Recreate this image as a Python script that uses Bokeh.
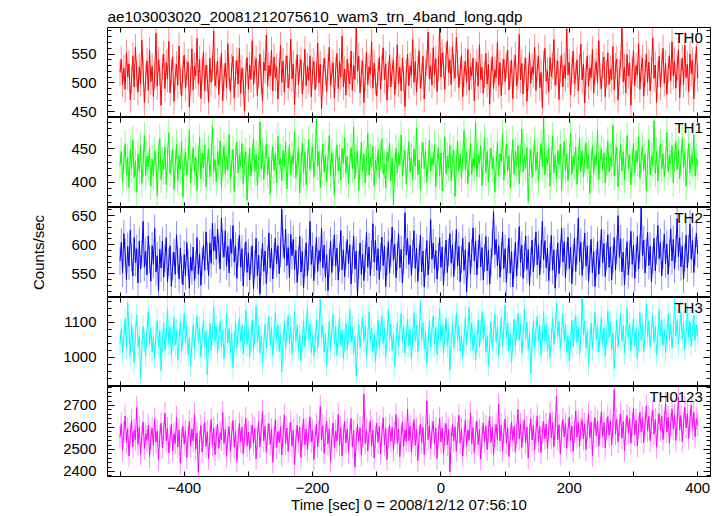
from bokeh.plotting import figure
from bokeh.layouts import column
from bokeh.models import Range1d, FixedTicker, LinearAxis, CustomJSTickFormatter, Label, ColumnDataSource
from bokeh.transform import dodge
from bokeh.embed import file_html
from bokeh.resources import INLINE

FONT = "Liberation Sans"

title_text = "ae103003020_20081212075610_wam3_trn_4band_long.qdp"
x_label = "Time [sec] 0 = 2008/12/12 07:56:10"
y_label = "Counts/sec"

t_start = -500
t_step = 2

th0 = [
    518, 541, 497, 526, 489, 552, 510, 533, 471, 505, 547, 493, 562, 515, 484, 528, 499, 574, 521, 466, 509, 538, 487, 557, 502,
    529, 476, 513, 586, 494, 540, 518, 461, 527, 550, 490, 535, 507, 572, 483, 519, 545, 468, 511, 532, 496, 564, 503, 477, 524,
    548, 491, 517, 536, 458, 505, 559, 488, 529, 512, 577, 499, 541, 473, 520, 554, 486, 531, 508, 467, 543, 501, 526, 590, 495,
    514, 537, 480, 522, 551, 469, 508, 534, 492, 568, 511, 485, 527, 546, 474, 516, 539, 498, 560, 482, 525, 504, 451, 518, 544,
    489, 531, 506, 573, 497, 523, 542, 478, 515, 550, 503, 469, 536, 521, 583, 494, 530, 512, 557, 486, 545, 509, 528, 472, 519,
    565, 501, 538, 484, 524, 547, 492, 513, 576, 507, 533, 462, 518, 549, 497, 526, 540, 481, 511, 558, 495, 529, 504, 547, 476,
    521, 537, 488, 514, 569, 500, 532, 455, 508, 543, 519, 485, 527, 562, 496, 516, 535, 474, 522, 551, 490, 537, 510, 581, 493,
    524, 479, 541, 512, 498, 555, 487, 530, 506, 596, 520, 546, 483, 517, 538, 466, 509, 553, 497, 528, 515, 571, 491, 534, 502,
    477, 519, 544, 489, 526, 561, 505, 533, 470, 514, 548, 493, 522, 539, 480, 511, 566, 498, 527, 486, 543, 507, 459, 518, 550,
    495, 530, 513, 575, 501, 537, 484, 523, 556, 491, 512, 546, 472, 520, 534, 588, 507, 529, 496, 561, 514, 542, 485, 525, 596,
    510, 552, 531, 489, 547, 573, 518, 540, 497, 563, 526, 508, 579, 534, 492, 521, 548, 476, 515, 537, 501, 558, 487, 528, 512,
    543, 469, 519, 536, 494, 566, 506, 527, 482, 514, 551, 498, 532, 463, 517, 545, 490, 523, 509, 570, 496, 535, 478, 520, 541,
    502, 531, 557, 488, 516, 539, 473, 526, 548, 495, 512, 584, 505, 534, 481, 522, 543, 468, 510, 553, 499, 528, 515, 562, 487,
    525, 546, 492, 518, 457, 533, 560, 503, 521, 484, 544, 511, 529, 575, 496, 517, 538, 471, 524, 549, 493, 530, 507, 594, 514,
    536, 479, 522, 555, 498, 513, 540, 486, 527, 567, 505, 532, 465, 519, 547, 494, 526, 509, 558, 482, 520, 537, 500, 573, 511,
    490, 531, 545, 476, 516, 552, 497, 524, 506, 563, 488, 529, 541, 470, 518, 533, 596, 502, 527, 483, 549, 512, 535, 461, 521,
    556, 495, 530, 514, 568, 489, 525, 543, 477, 517, 550, 501, 536, 486, 522, 578, 508, 531, 466, 515, 546, 493, 528, 560, 499,
    534, 480, 523, 547, 504, 571, 512, 538, 491, 526, 557, 474, 519, 543, 497, 565, 509, 532, 485, 550, 516, 539, 472, 527, 563,
    508,
]

th1 = [
    426, 446, 401, 433, 458, 412, 437, 392, 449, 420, 463, 407, 431, 385, 442, 416, 455, 398, 428, 470, 410, 439, 423, 451, 394,
    435, 409, 447, 427, 380, 441, 466, 404, 432, 418, 453, 396, 437, 474, 413, 429, 448, 389, 425, 457, 402, 440, 419, 461, 377,
    430, 445, 411, 436, 478, 399, 426, 452, 415, 438, 388, 433, 467, 405, 444, 421, 456, 393, 429, 450, 408, 437, 484, 417, 434,
    400, 446, 425, 462, 391, 430, 454, 412, 439, 418, 472, 403, 428, 449, 386, 435, 460, 414, 441, 424, 458, 397, 432, 446, 373,
    421, 451, 409, 437, 466, 416, 442, 395, 429, 490, 420, 447, 404, 434, 457, 411, 438, 382, 427, 453, 418, 443, 399, 469, 426,
    436, 402, 448, 423, 461, 390, 431, 455, 413, 440, 427, 476, 406, 433, 450, 384, 422, 459, 414, 445, 396, 430, 464, 419, 437,
    453, 407, 434, 495, 424, 446, 392, 428, 457, 415, 441, 401, 436, 470, 410, 444, 425, 381, 432, 456, 417, 438, 403, 451, 428,
    466, 413, 439, 398, 429, 452, 420, 483, 405, 435, 447, 388, 426, 460, 416, 442, 399, 431, 473, 411, 437, 423, 454, 394, 433,
    418, 449, 406, 440, 465, 412, 427, 391, 445, 430, 458, 402, 436, 366, 421, 451, 414, 443, 426, 471, 409, 434, 448, 397, 430,
    461, 415, 438, 404, 450, 424, 481, 411, 433, 389, 441, 459, 420, 446, 400, 429, 463, 417, 437, 425, 456, 393, 431, 452, 410,
    444, 387, 426, 468, 413, 439, 422, 455, 402, 434, 448, 379, 428, 462, 416, 442, 405, 437, 477, 419, 445, 398, 430, 458, 412,
    436, 423, 490, 408, 441, 427, 454, 395, 432, 467, 414, 446, 401, 429, 451, 420, 438, 385, 425, 460, 410, 443, 431, 473, 403,
    434, 457, 417, 440, 392, 428, 464, 412, 447, 424, 455, 398, 436, 480, 415, 439, 421, 452, 371, 430, 449, 407, 437, 463, 418,
    445, 400, 433, 458, 423, 496, 411, 438, 427, 451, 394, 432, 469, 414, 441, 405, 448, 426, 457, 389, 429, 461, 418, 443, 402,
    436, 474, 412, 439, 425, 453, 397, 431, 466, 416, 447, 408, 435, 459, 420, 442, 383, 428, 455, 413, 440, 426, 478, 404, 433,
    450, 419, 444, 399, 430, 462, 415, 438, 423, 486, 409, 437, 452, 393, 427, 457, 417, 445, 404, 433, 470, 421, 441, 396, 429,
    459, 414, 447, 430, 468, 406, 436, 453, 418, 442, 387, 431, 464, 411, 439, 425, 492, 413, 446, 402, 434, 457, 420, 443, 408,
    432, 475, 416, 441, 427, 455, 399, 437, 461, 419, 448, 405, 433, 466, 422, 445, 394, 430, 458, 414, 440, 426, 471, 409, 436,
    424,
]

th2 = [
    572, 604, 551, 619, 586, 540, 597, 563, 625, 578, 546, 612, 569, 593, 534, 606, 558, 583, 640, 561, 589, 548, 615, 575, 537,
    598, 566, 628, 553, 581, 521, 592, 560, 606, 544, 576, 612, 536, 570, 598, 528, 563, 587, 549, 617, 573, 541, 594, 557, 531,
    583, 546, 604, 569, 525, 578, 555, 596, 538, 565, 612, 549, 584, 530, 571, 599, 556, 622, 580, 547, 603, 568, 637, 589, 614,
    575, 627, 592, 558, 646, 601, 579, 624, 563, 597, 551, 610, 585, 633, 570, 598, 542, 587, 616, 561, 593, 529, 578, 605, 552,
    586, 539, 573, 598, 524, 566, 611, 547, 582, 515, 570, 602, 554, 589, 533, 574, 620, 560, 594, 541, 580, 611, 567, 598, 550,
    585, 661, 603, 576, 627, 564, 595, 543, 618, 581, 609, 557, 590, 535, 572, 614, 553, 588, 526, 569, 603, 546, 580, 640, 566,
    597, 538, 575, 612, 554, 590, 571, 628, 560, 599, 544, 583, 521, 568, 606, 552, 587, 617, 563, 594, 539, 578, 624, 557, 591,
    545, 581, 609, 567, 600, 532, 574, 615, 558, 589, 512, 565, 603, 549, 584, 538, 576, 621, 561, 596, 547, 583, 636, 570, 608,
    556, 593, 540, 579, 613, 564, 598, 528, 571, 605, 551, 586, 630, 573, 601, 543, 580, 618, 560, 592, 534, 574, 655, 582, 611,
    566, 599, 547, 585, 624, 559, 594, 537, 577, 616, 553, 589, 527, 569, 607, 548, 582, 643, 575, 603, 558, 590, 541, 579, 612,
    561, 596, 530, 573, 608, 552, 587, 619, 568, 600, 545, 581, 626, 563, 597, 536, 574, 611, 556, 591, 519, 567, 604, 550, 586,
    629, 572, 606, 548, 584, 617, 562, 595, 539, 577, 614, 555, 590, 532, 570, 601, 657, 583, 609, 564, 598, 544, 580, 622, 559,
    593, 535, 575, 611, 551, 588, 527, 566, 604, 546, 583, 631, 569, 599, 542, 578, 615, 557, 592, 530, 572, 608, 553, 587, 622,
    565, 600, 548, 584, 640, 574, 607, 560, 594, 538, 579, 616, 556, 591, 525, 568, 603, 550, 585, 628, 570, 605, 543, 581, 613,
    559, 596, 533, 576, 611, 554, 589, 646, 571, 604, 547, 582, 620, 563, 598, 537, 575, 609, 552, 588, 528, 567, 606, 549, 584,
    626, 569, 602, 545, 580, 617, 561, 596, 539, 574, 612, 556, 591, 650, 578, 610, 553, 587, 531, 571, 605, 548, 583, 623, 566,
    599, 542, 577, 614, 558, 593, 664, 581, 608, 551, 586, 621, 564, 597, 536, 573, 611, 555, 590, 633, 576, 604, 546, 582, 618,
    567, 601, 549, 585, 627, 572, 609, 558, 594, 645, 579, 612, 562, 598, 541, 578, 616, 560, 593, 636, 575, 607, 552, 589, 620,
    584,
]

th3 = [
    1038, 1080, 1012, 1061, 1109, 1027, 1155, 1072, 1004, 1093, 1046, 985, 1066, 1120, 1031, 1058, 940, 1024, 1087, 1049, 1003, 1071, 1130, 1036, 1082,
    1015, 1057, 998, 1068, 1104, 1029, 1075, 962, 1043, 1097, 1020, 1063, 1138, 1039, 1085, 1007, 1052, 1114, 1033, 1078, 991, 1048, 1100, 1017, 1066,
    1125, 1041, 1089, 1006, 1055, 975, 1037, 1092, 1022, 1070, 1118, 1044, 1083, 1001, 1060, 1107, 1028, 1074, 950, 1035, 1096, 1019, 1064, 1142, 1047,
    1086, 1010, 1056, 1102, 1032, 1077, 996, 1051, 1123, 1040, 1081, 1013, 1067, 970, 1042, 1099, 1025, 1073, 1111, 1045, 1090, 1008, 1059, 1133, 1036,
    1079, 1000, 1054, 1106, 1021, 1069, 1147, 1043, 1088, 1011, 1062, 983, 1039, 1094, 1026, 1071, 1116, 1034, 1084, 1005, 1057, 1127, 1048, 1091, 1016,
    1065, 958, 1041, 1098, 1023, 1076, 1119, 1037, 1086, 1009, 1053, 1131, 1045, 1092, 1018, 1063, 990, 1047, 1104, 1030, 1080, 1140, 1050, 1095, 1012,
    1061, 1003, 1044, 1108, 1027, 1072, 1165, 1055, 1090, 1014, 1066, 978, 1040, 1101, 1024, 1075, 1122, 1038, 1087, 1006, 1058, 1113, 1032, 1078, 997,
    1049, 1096, 1020, 1068, 1136, 1042, 1085, 1010, 1059, 945, 1036, 1093, 1028, 1074, 1115, 1046, 1089, 1002, 1054, 1129, 1041, 1083, 1016, 1064, 987,
    1043, 1105, 1025, 1071, 1118, 1039, 1082, 1000, 1056, 1134, 1048, 1094, 1019, 1067, 973, 1035, 1099, 1030, 1076, 1124, 1044, 1088, 1011, 1060, 1109,
    1033, 1079, 995, 1052, 1127, 1046, 1091, 1015, 1065, 1160, 1050, 1097, 1023, 1072, 982, 1041, 1103, 1028, 1077, 1117, 1037, 1085, 1008, 1062, 1138,
    1045, 1092, 1012, 1058, 1110, 1031, 1081, 963, 1040, 1096, 1026, 1070, 1126, 1047, 1090, 1017, 1063, 1001, 1053, 1114, 1035, 1080, 1141, 1049, 1098,
    1021, 1069, 992, 1043, 1106, 1029, 1075, 1130, 1052, 1094, 1013, 1061, 976, 1038, 1100, 1025, 1073, 1121, 1042, 1088, 1005, 1057, 1112, 1034, 1083,
    1148, 1054, 1097, 1018, 1066, 985, 1045, 1108, 1032, 1078, 1125, 1048, 1093, 1010, 1060, 1137, 1051, 1099, 1022, 1071, 954, 1039, 1102, 1027, 1076,
    1116, 1043, 1089, 1007, 1055, 1131, 1046, 1092, 1016, 1064, 998, 1050, 1111, 1036, 1082, 1155, 1058, 1101, 1024, 1070, 1124, 1047, 1094, 1013, 1062,
    989, 1044, 1106, 1030, 1077, 1119, 1041, 1086, 1009, 1057, 1170, 1063, 1103, 1026, 1073, 980, 1040, 1098, 1023, 1069, 1128, 1049, 1092, 1014, 1061,
    1115, 1037, 1083, 1002, 1053, 1133, 1056, 1100, 1021, 1068, 967, 1042, 1105, 1031, 1079, 1122, 1045, 1090, 1011, 1059, 1139, 1052, 1096, 1019, 1066,
    1110, 1034, 1081, 996, 1050, 1127, 1048, 1093, 1015, 1062, 1150, 1058, 1102, 1028, 1074, 1118, 1043, 1088, 1007, 1055, 1136, 1061, 1107, 1033, 1080,
    1012, 1064, 1123, 1049, 1095, 1026, 1071, 1162, 1059, 1104, 1037, 1084, 1130, 1053, 1099, 1022, 1068, 1145, 1057, 1101, 1031, 1077, 1119, 1046, 1090,
    1060,
]

th0123 = [
    2555, 2618, 2497, 2580, 2652, 2531, 2594, 2470, 2568, 2633, 2512, 2587, 2545, 2690, 2523, 2601, 2478, 2559, 2625, 2504, 2572, 2541, 2610, 2466, 2550,
    2596, 2519, 2640, 2533, 2585, 2452, 2563, 2620, 2507, 2578, 2665, 2538, 2597, 2484, 2556, 2614, 2495, 2571, 2528, 2646, 2511, 2589, 2437, 2548, 2605,
    2525, 2583, 2463, 2557, 2628, 2516, 2592, 2540, 2661, 2501, 2575, 2395, 2534, 2609, 2489, 2566, 2622, 2514, 2580, 2458, 2552, 2637, 2520, 2598, 2476,
    2561, 2615, 2505, 2576, 2544, 2668, 2527, 2590, 2469, 2553, 2604, 2492, 2570, 2631, 2510, 2584, 2448, 2547, 2619, 2535, 2601, 2481, 2564, 2642, 2517,
    2579, 2500, 2558, 2612, 2529, 2595, 2457, 2549, 2626, 2513, 2587, 2674, 2539, 2606, 2486, 2569, 2617, 2522, 2591, 2442, 2554, 2635, 2508, 2582, 2532,
    2603, 2474, 2562, 2657, 2526, 2597, 2491, 2573, 2623, 2515, 2588, 2430, 2546, 2611, 2537, 2600, 2463, 2567, 2639, 2521, 2593, 2498, 2574, 2648, 2534,
    2586, 2454, 2557, 2615, 2511, 2581, 2696, 2543, 2607, 2482, 2565, 2629, 2524, 2594, 2446, 2551, 2620, 2509, 2583, 2539, 2660, 2518, 2599, 2471, 2563,
    2627, 2530, 2592, 2487, 2570, 2641, 2512, 2585, 2420, 2549, 2613, 2536, 2598, 2475, 2560, 2751, 2527, 2590, 2493, 2572, 2630, 2516, 2587, 2461, 2556,
    2619, 2533, 2604, 2480, 2568, 2644, 2521, 2595, 2454, 2553, 2610, 2538, 2601, 2496, 2575, 2659, 2528, 2593, 2467, 2562, 2625, 2514, 2589, 2537, 2683,
    2540, 2606, 2488, 2571, 2636, 2519, 2592, 2449, 2558, 2615, 2531, 2600, 2476, 2566, 2721, 2545, 2608, 2503, 2579, 2628, 2525, 2596, 2459, 2557, 2642,
    2534, 2597, 2481, 2569, 2618, 2520, 2591, 2398, 2550, 2612, 2538, 2603, 2492, 2576, 2655, 2529, 2594, 2470, 2561, 2633, 2517, 2588, 2541, 2666, 2526,
    2599, 2485, 2573, 2629, 2523, 2590, 2456, 2555, 2621, 2535, 2607, 2499, 2580, 2649, 2532, 2601, 2477, 2565, 2613, 2546, 2705, 2539, 2610, 2494, 2577,
    2638, 2528, 2598, 2468, 2563, 2624, 2541, 2606, 2489, 2574, 2681, 2547, 2614, 2508, 2586, 2632, 2530, 2602, 2462, 2568, 2640, 2543, 2609, 2497, 2581,
    2653, 2536, 2604, 2486, 2578, 2626, 2549, 2615, 2503, 2589, 2665, 2552, 2621, 2513, 2595, 2742, 2544, 2612, 2479, 2576, 2637, 2557, 2618, 2505, 2591,
    2648, 2540, 2607, 2492, 2582, 2675, 2556, 2623, 2511, 2597, 2636, 2548, 2616, 2499, 2585, 2660, 2553, 2625, 2472, 2579, 2644, 2561, 2628, 2515, 2600,
    2671, 2558, 2622, 2506, 2594, 2650, 2565, 2631, 2520, 2605, 2772, 2570, 2638, 2534, 2611, 2662, 2551, 2627, 2494, 2596, 2655, 2574, 2642, 2528, 2614,
    2686, 2567, 2633, 2516, 2603, 2668, 2579, 2645, 2531, 2617, 2697, 2583, 2651, 2539, 2621, 2678, 2569, 2636, 2510, 2608, 2664, 2587, 2653, 2545, 2626,
    2710, 2580, 2647, 2528, 2615, 2684, 2592, 2658, 2541, 2624, 2735, 2588, 2654, 2536, 2619, 2691, 2598, 2662, 2550, 2631, 2702, 2594, 2668, 2557, 2640,
    2612,
]

bands = ["TH0", "TH1", "TH2", "TH3", "TH0123"]
series = [th0, th1, th2, th3, th0123]
errors = [23, 21, 24, 32, 51]
colors = ["#ff0000", "#00ff00", "#0000ff", "#00ffff", "#ff00ff"]
y_ranges = [(440, 596), (362, 497), (509, 664), (916, 1170), (2377, 2786)]
y_major = [[450, 500, 550], [400, 450], [550, 600, 650], [1000, 1100], [2400, 2500, 2600, 2700]]
y_minor_step = [10, 10, 10, 20, 20]
x_ticks = [-500, -400, -300, -200, -100, 0, 100, 200, 300, 400]
x_tick_labels = {-500: "", -400: "\u2212400", -300: "", -200: "\u2212200", -100: "",
                 0: "0", 100: "", 200: "200", 300: "", 400: "400"}
x_min, x_max = -519.5, 420
frame_heights = [90, 90, 90, 89, 90]


def style_axis(ax, labelled):
    ax.axis_line_color = None
    ax.major_tick_in = 7
    ax.major_tick_out = 0
    ax.minor_tick_in = 4
    ax.minor_tick_out = 0
    ax.major_tick_line_color = "black"
    ax.minor_tick_line_color = "black"
    ax.major_label_text_font = FONT
    ax.major_label_text_font_size = "15px" if labelled else "0px"
    ax.major_label_text_color = "black"
    ax.axis_label_text_font = FONT
    ax.axis_label_text_font_size = "15px"
    ax.axis_label_text_font_style = "normal"
    ax.axis_label_text_color = "black"
    if not labelled:
        ax.formatter = CustomJSTickFormatter(code="return ''")
        ax.major_label_standoff = 0


figs = []
n = len(bands)
for i in range(n):
    lo, hi = y_ranges[i]
    last = (i == n - 1)
    p = figure(frame_width=603, frame_height=frame_heights[i],
               x_range=Range1d(x_min, x_max), y_range=Range1d(lo, hi),
               output_backend="svg", toolbar_location=None,
               x_axis_location=None, y_axis_location=None,
               min_border_left=107, min_border_right=10,
               min_border_top=27 if i == 0 else 0, min_border_bottom=0)
    p.grid.visible = False
    p.outline_line_color = "black"
    p.outline_line_width = 1
    p.background_fill_color = "white"
    p.border_fill_color = "white"

    xs = [t_start + t_step * k for k in range(len(series[i]))]
    src = ColumnDataSource(data=dict(t=xs, rate=series[i]))
    p.segment(x0="t", x1="t", y0=dodge("rate", -errors[i]), y1=dodge("rate", errors[i]),
              source=src, line_color=colors[i], line_alpha=0.45, line_width=1)
    p.line(x="t", y="rate", source=src, line_color=colors[i], line_width=1)

    step = y_minor_step[i]
    minor = list(range(lo - lo % step, hi + step, step))

    left = LinearAxis(ticker=FixedTicker(ticks=y_major[i], minor_ticks=minor))
    style_axis(left, True)
    left.major_label_standoff = 11
    if i == 2:
        left.axis_label = y_label
        left.axis_label_standoff = 21
    p.add_layout(left, "left")

    right = LinearAxis(ticker=FixedTicker(ticks=y_major[i], minor_ticks=minor))
    style_axis(right, False)
    p.add_layout(right, "right")

    top = LinearAxis(ticker=FixedTicker(ticks=x_ticks, minor_ticks=[]))
    style_axis(top, False)
    top.major_tick_in = 5
    p.add_layout(top, "above")

    bottom = LinearAxis(ticker=FixedTicker(ticks=x_ticks, minor_ticks=[]))
    style_axis(bottom, last)
    bottom.major_tick_in = 5
    if last:
        bottom.major_label_overrides = x_tick_labels
        bottom.major_label_standoff = 6
        bottom.axis_label = x_label
        bottom.axis_label_standoff = 0
    p.add_layout(bottom, "below")

    p.add_layout(Label(x=408, y=hi, text=bands[i], text_align="right",
                       text_baseline="top", y_offset=-1,
                       text_font=FONT, text_font_size="15px", text_color="black"))

    if i == 0:
        p.title.text = title_text
        p.title.align = "left"
        p.title.text_font = FONT
        p.title.text_font_size = "15.3px"
        p.title.text_font_style = "normal"
        p.title.text_color = "black"
        p.title.standoff = 5

    figs.append(p)

layout = column(*figs, spacing=0)
open("out.html", "w").write(file_html(layout, INLINE))
